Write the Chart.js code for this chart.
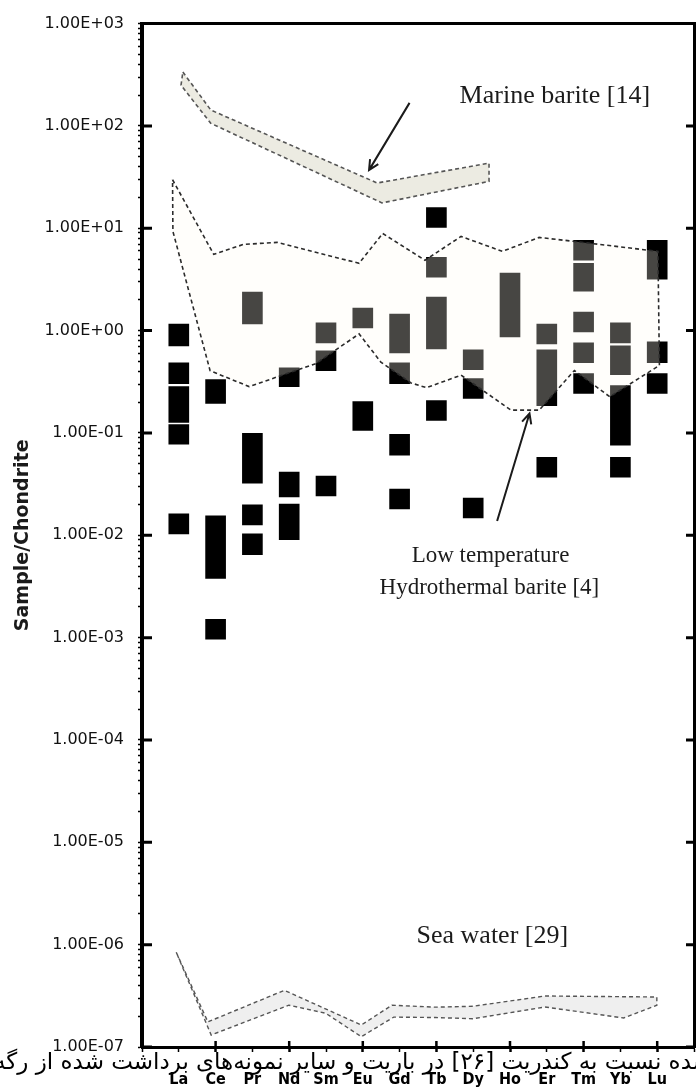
<!DOCTYPE html>
<html>
<head>
<meta charset="utf-8">
<title>REE pattern - barite</title>
<script src="https://cdn.jsdelivr.net/npm/chart.js@4.4.1/dist/chart.umd.min.js"></script>
<style>
  html, body { margin: 0; padding: 0; background: #fff; }
  #wrap { position: relative; width: 696px; height: 1090px; overflow: hidden; }
  #chart { position: absolute; left: 0; top: 0; }
  #caption { position: absolute; top: 1049px; right: -16px; white-space: nowrap; direction: rtl;
             font: 23px/24px "DejaVu Sans", sans-serif; color: #000; }
</style>
</head>
<body>
<div id="wrap">
  <canvas id="chart" width="712" height="1090"></canvas>
  <div id="caption">شده نسبت به کندریت [۲۶] در باریت و سایر نمونه‌های برداشت شده از رگه‌ها</div>
</div>
<script>
/* ---------- data ---------- */
const elements = ['La', 'Ce', 'Pr', 'Nd', 'Sm', 'Eu', 'Gd', 'Tb', 'Dy', 'Ho', 'Er', 'Tm', 'Yb', 'Lu'];

// sample/chondrite ranges [low, high] for each element, one box per range
const sampleRanges = [
    [[0.71, 1.16], [0.303, 0.485], [0.127, 0.284], [0.0775, 0.121], [0.0103, 0.0162]],   // La
    [[0.194, 0.332], [0.00378, 0.0155], [0.000965, 0.00151]],                          // Ce
    [[1.16, 2.38], [0.0324, 0.0991], [0.01265, 0.0198], [0.00646, 0.01034]],            // Pr
    [[0.284, 0.434], [0.0237, 0.0414], [0.00904, 0.0202]],                              // Nd
    [[0.759, 1.19], [0.406, 0.635], [0.0242, 0.0379]],                                  // Sm
    [[1.06, 1.66], [0.106, 0.203]],                                                     // Eu
    [[0.607, 1.45], [0.303, 0.485], [0.0606, 0.0969], [0.0181, 0.0283]],                // Gd
    [[10.2, 15.9], [3.33, 5.2], [0.664, 2.13], [0.1326, 0.207]],                        // Tb
    [[0.415, 0.649], [0.217, 0.339], [0.0148, 0.0231]],                                 // Dy
    [[0.869, 3.64]],                                                                    // Ho
    [[0.743, 1.16], [0.185, 0.649], [0.037, 0.0579]],                                   // Er
    [[4.87, 7.61], [2.43, 4.55], [0.971, 1.52], [0.485, 0.759], [0.243, 0.38]],         // Tm
    [[0.759, 1.19], [0.371, 0.71], [0.0758, 0.29], [0.037, 0.0579]],                    // Yb
    [[3.18, 7.61], [0.485, 0.777], [0.243, 0.38]]                                       // Lu
];

// outlines as [element position, value]
const lowTempOutline = [
    [-0.17, 29.8], [0.95, 5.56], [1.76, 6.96], [2.67, 7.28], [3.72, 5.82], [4.90, 4.55],
    [5.54, 8.90], [6.69, 4.87], [7.67, 8.32], [8.79, 5.95], [9.79, 8.14], [10.75, 7.44],
    [13.02, 5.95], [13.06, 0.457], [11.71, 0.226], [10.75, 0.408], [9.79, 0.167], [9.03, 0.167],
    [7.67, 0.367], [6.73, 0.277], [6.31, 0.308], [5.49, 0.493], [4.90, 0.929], [3.72, 0.475],
    [1.91, 0.284], [0.85, 0.406], [-0.16, 9.31]
];
const marineBarite = [
    [0.11, 336], [0.87, 143], [5.39, 27.7], [8.43, 43.3], [8.43, 28.7], [5.52, 17.7], [0.87, 106], [0.06, 250]
];
const seaWater = [
    [-0.07, 8.43e-7], [0.79, 1.76e-7], [2.87, 3.58e-7], [4.96, 1.64e-7], [5.79, 2.56e-7], [6.98, 2.45e-7],
    [7.99, 2.5e-7], [9.95, 3.15e-7], [12.99, 3.08e-7], [12.99, 2.56e-7], [12.09, 1.92e-7], [9.95, 2.46e-7],
    [7.99, 1.89e-7], [6.98, 1.94e-7], [5.84, 1.96e-7], [4.96, 1.26e-7], [3.99, 2.14e-7], [2.99, 2.56e-7],
    [0.88, 1.31e-7]
];

const yTickLabels = ['1.00E-07', '1.00E-06', '1.00E-05', '1.00E-04', '1.00E-03', '1.00E-02',
                     '1.00E-01', '1.00E+00', '1.00E+01', '1.00E+02', '1.00E+03'];

const notes = [
    { text: 'Marine barite [14]', x: 10.22, y: 195, size: 26 },
    { text: 'Low temperature', x: 8.47, y: 0.00632, size: 23 },
    { text: 'Hydrothermal barite [4]', x: 8.44, y: 0.00309, size: 23 },
    { text: 'Sea water [29]', x: 8.52, y: 1.2e-6, size: 26 }
];
const pointers = [
    { from: [6.27, 168], to: [5.17, 37] },
    { from: [8.65, 0.0138], to: [9.53, 0.155] }
];

/* ---------- helpers ---------- */
const closed = arr => arr.concat([arr[0]]).map(([x, y]) => ({ x, y }));
const barData = sampleRanges.flatMap((ranges, i) => ranges.map(r => ({ x: i, y: r })));

function yLabel(v) {
    const e = Math.log10(v);
    const r = Math.round(e);
    return Math.abs(e - r) < 1e-6 ? (yTickLabels[r + 7] || '') : '';
}

const overlay = {
    id: 'overlay',
    afterDatasetsDraw(chart) {
        const { ctx, scales: { x, y } } = chart;
        ctx.save();
        ctx.fillStyle = '#1b1b1b';
        ctx.textAlign = 'center';
        ctx.textBaseline = 'middle';
        notes.forEach(n => {
            ctx.font = n.size + 'px "Liberation Serif", serif';
            ctx.fillText(n.text, x.getPixelForValue(n.x), y.getPixelForValue(n.y));
        });

        ctx.strokeStyle = '#1b1b1b';
        ctx.lineWidth = 2;
        pointers.forEach(p => {
            const x0 = x.getPixelForValue(p.from[0]), y0 = y.getPixelForValue(p.from[1]);
            const x1 = x.getPixelForValue(p.to[0]), y1 = y.getPixelForValue(p.to[1]);
            const a = Math.atan2(y1 - y0, x1 - x0);
            ctx.beginPath();
            ctx.moveTo(x0, y0);
            ctx.lineTo(x1, y1);
            ctx.moveTo(x1 - 11 * Math.cos(a - 0.45), y1 - 11 * Math.sin(a - 0.45));
            ctx.lineTo(x1, y1);
            ctx.lineTo(x1 - 11 * Math.cos(a + 0.45), y1 - 11 * Math.sin(a + 0.45));
            ctx.stroke();
        });
        ctx.restore();
    },
    afterDraw(chart) {
        // inward tick marks (left/right majors, every other element on x)
        const { ctx, chartArea: a, scales: { x, y } } = chart;
        ctx.save();
        ctx.strokeStyle = '#000';
        ctx.lineWidth = 3;
        ctx.beginPath();
        for (let e = -7; e <= 3; e++) {
            const py = y.getPixelForValue(Math.pow(10, e));
            ctx.moveTo(a.left, py); ctx.lineTo(a.left + 10, py);
            ctx.moveTo(a.right - 8, py); ctx.lineTo(a.right, py);
        }
        ctx.stroke();
        ctx.lineWidth = 2.5;
        ctx.beginPath();
        for (let i = 1; i < elements.length; i += 2) {
            const px = x.getPixelForValue(i);
            ctx.moveTo(px, a.bottom); ctx.lineTo(px, a.bottom - 6);
        }
        ctx.stroke();
        ctx.restore();
    }
};

/* ---------- chart ---------- */
new Chart(document.getElementById('chart'), {
    type: 'bar',
    data: {
        datasets: [
            {
                type: 'line', label: 'Low temperature hydrothermal barite',
                data: closed(lowTempOutline), order: 0,
                borderColor: '#2b2b2b', borderWidth: 1.6, borderDash: [4, 3],
                backgroundColor: 'rgba(255,252,242,0.28)', fill: 'shape',
                pointRadius: 0, tension: 0
            },
            {
                label: 'Samples', data: barData, order: 1,
                backgroundColor: '#000', borderWidth: 0, barThickness: 20
            },
            {
                type: 'line', label: 'Marine barite',
                data: closed(marineBarite), order: 2,
                borderColor: '#555', borderWidth: 1.6, borderDash: [4, 3],
                backgroundColor: '#ecebe2', fill: 'shape',
                pointRadius: 0, tension: 0
            },
            {
                type: 'line', label: 'Sea water',
                data: closed(seaWater), order: 2,
                borderColor: '#555', borderWidth: 1.4, borderDash: [4, 3],
                backgroundColor: '#efefef', fill: 'shape',
                pointRadius: 0, tension: 0
            }
        ]
    },
    options: {
        responsive: false,
        animation: false,
        devicePixelRatio: 1,
        layout: { padding: { left: 0, top: 18, right: 11, bottom: 0 } },
        plugins: { legend: { display: false }, tooltip: { enabled: false } },
        scales: {
            x: {
                type: 'linear', position: 'bottom', min: -1, max: 14, offset: false,
                afterFit: s => { s.height = 43; },
                afterBuildTicks: s => { s.ticks = Array.from({ length: 16 }, (_, k) => ({ value: k - 1 })); },
                border: { display: true, color: '#000', width: 3 },
                grid: {
                    offset: false, drawOnChartArea: false, tickLength: 5, tickColor: '#000',
                    tickWidth: c => (c.tick && c.tick.value > 0 && c.tick.value < 14 && c.tick.value % 2 === 1) ? 2.5 : 1.5
                },
                ticks: {
                    autoSkip: false, maxRotation: 0, padding: 18, color: '#000',
                    font: { family: '"DejaVu Sans Condensed", "DejaVu Sans"', weight: 'bold', size: 16 },
                    callback: v => elements[v] || ''
                }
            },
            xTop: {
                type: 'linear', position: 'top', min: -1, max: 14,
                afterFit: s => { s.height = 0; },
                border: { display: true, color: '#000', width: 3 },
                grid: { display: false },
                ticks: { display: false }
            },
            y: {
                type: 'logarithmic', position: 'left', min: 1e-7, max: 1e3,
                afterFit: s => { s.width = 142; },
                afterBuildTicks: s => {
                    const t = [];
                    for (let e = -7; e < 3; e++) for (let m = 1; m <= 9; m++) t.push({ value: m * Math.pow(10, e) });
                    t.push({ value: 1e3 });
                    s.ticks = t;
                },
                border: { display: true, color: '#000', width: 4 },
                grid: { drawOnChartArea: false, tickLength: 4, tickColor: '#000', tickWidth: 1.5 },
                ticks: {
                    autoSkip: false, padding: 14, color: '#111',
                    font: { family: '"DejaVu Sans"', size: 16 },
                    callback: yLabel
                },
                title: {
                    display: true, text: 'Sample/Chondrite', color: '#1a1a1a',
                    font: { family: '"DejaVu Sans"', weight: 'bold', size: 19 },
                    padding: { top: 12, bottom: 0 }
                }
            },
            yR: {
                type: 'logarithmic', position: 'right', min: 1e-7, max: 1e3,
                afterFit: s => { s.width = 0; },
                border: { display: true, color: '#000', width: 3 },
                grid: { display: false },
                ticks: { display: false }
            }
        }
    },
    plugins: [overlay]
});
</script>
</body>
</html>
